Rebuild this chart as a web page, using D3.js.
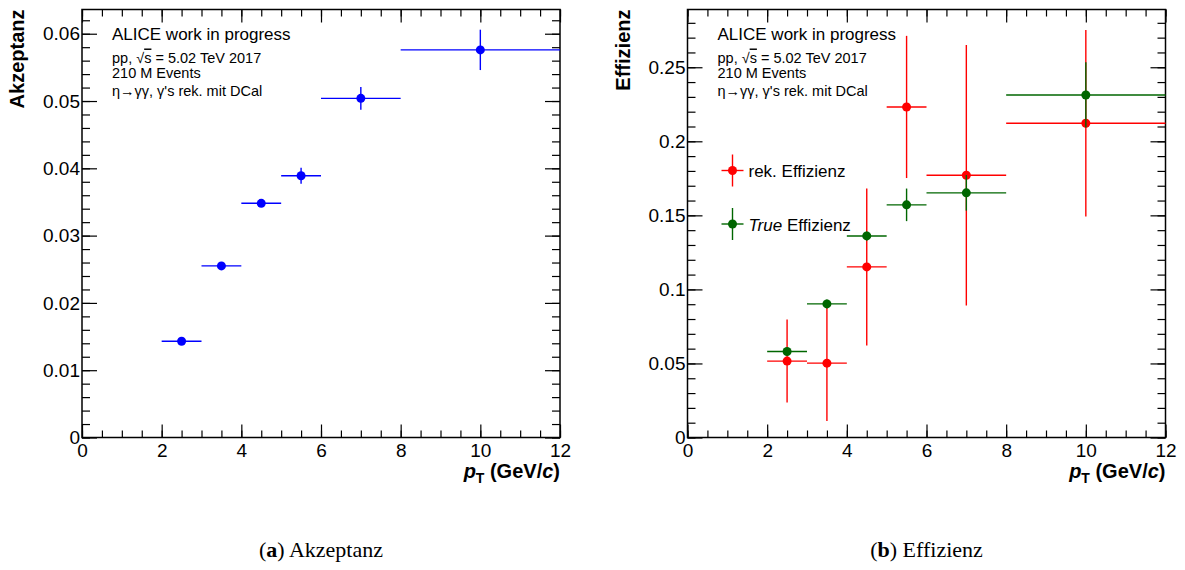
<!DOCTYPE html>
<html>
<head>
<meta charset="utf-8">
<script src="https://cdn.jsdelivr.net/npm/d3@7"></script>
<style>
  body { margin: 0; background: #fff; }
  svg text { font-family: "Liberation Sans", Arial, sans-serif; fill: #000; }
  .axis path { display: none; }
  .axis line { stroke: #000; stroke-width: 1.2; }
  .axis text { font-size: 19px; }
  .caption { font-family: "Liberation Serif", "Times New Roman", serif; font-size: 22px; }
</style>
</head>
<body>
<svg width="1185" height="570"></svg>
<script>
// pT bins (GeV/c)
var ptLow    = [2, 3, 4, 5, 6, 8];
var ptHigh   = [3, 4, 5, 6, 8, 12];
var ptCenter = [2.5, 3.5, 4.5, 5.5, 7, 10];

// (a) acceptance
var akzeptanz    = [0.0143, 0.0255, 0.0348, 0.0389, 0.0504, 0.0576];
var akzeptanzErr = [0.0003, 0.0004, 0.0005, 0.0012, 0.0017, 0.0030];

// (b) efficiency
var effRek     = [0.0516, 0.0502, 0.1152, 0.2232, 0.1771, 0.2122];
var effRekErr  = [0.028, 0.039, 0.053, 0.048, 0.088, 0.063];
var effTrue    = [0.0581, 0.0902, 0.1361, 0.1571, 0.1652, 0.2313];
var effTrueErr = [0.002, 0.003, 0.003, 0.011, 0.012, 0.022];

var xTicks = [0, 2, 4, 6, 8, 10, 12];
var akzTicks = [0, 0.01, 0.02, 0.03, 0.04, 0.05, 0.06];
var akzTickLabels = ["0", "0.01", "0.02", "0.03", "0.04", "0.05", "0.06"];
var effTicks = [0, 0.05, 0.1, 0.15, 0.2, 0.25];
var effTickLabels = ["0", "0.05", "0.1", "0.15", "0.2", "0.25"];

var svg = d3.select("svg");

function series(vals, errs) {
  return ptCenter.map(function(c, i) {
    return {x: c, lo: ptLow[i], hi: ptHigh[i], y: vals[i], e: errs[i]};
  });
}

function drawPoints(g, x, y, data, color) {
  var p = g.append("g");
  data.forEach(function(d) {
    p.append("line")
      .attr("x1", x(d.lo)).attr("x2", x(d.hi))
      .attr("y1", y(d.y)).attr("y2", y(d.y))
      .attr("stroke", color).attr("stroke-width", 1.4);
    p.append("line")
      .attr("x1", x(d.x)).attr("x2", x(d.x))
      .attr("y1", y(d.y - d.e)).attr("y2", y(d.y + d.e))
      .attr("stroke", color).attr("stroke-width", 1.4);
    p.append("circle")
      .attr("cx", x(d.x)).attr("cy", y(d.y)).attr("r", 4.5)
      .attr("fill", color);
  });
}

function drawPanel(opt) {
  var left = opt.left, top = 9.5, width = 478, height = 428;
  var g = svg.append("g").attr("transform", "translate(" + left + "," + top + ")");

  var x = d3.scaleLinear().domain([0, 12]).range([0, width]);
  var y = d3.scaleLinear().domain([0, opt.yMax]).range([height, 0]);

  var xMinor = d3.range(0, 12.01, 0.5);
  var yMinor = d3.range(0, opt.yMax, opt.yMinorStep);

  // ticks, ROOT style: pointing inwards, on all four sides
  g.append("g").attr("class", "axis")
    .attr("transform", "translate(0," + height + ")")
    .call(d3.axisBottom(x).tickValues(xMinor).tickSize(-7).tickFormat(""));
  g.append("g").attr("class", "axis")
    .attr("transform", "translate(0," + height + ")")
    .call(d3.axisBottom(x).tickValues(xTicks).tickSize(-13).tickPadding(6).tickFormat(d3.format("d")));
  g.append("g").attr("class", "axis")
    .call(d3.axisTop(x).tickValues(xMinor).tickSize(-7).tickFormat(""));
  g.append("g").attr("class", "axis")
    .call(d3.axisTop(x).tickValues(xTicks).tickSize(-13).tickFormat(""));

  g.append("g").attr("class", "axis")
    .call(d3.axisLeft(y).tickValues(yMinor).tickSize(-8).tickFormat(""));
  g.append("g").attr("class", "axis")
    .call(d3.axisLeft(y).tickValues(opt.yTicks).tickSize(-15).tickPadding(2)
      .tickFormat(function(d, i) { return opt.yTickLabels[i]; }));
  g.append("g").attr("class", "axis")
    .attr("transform", "translate(" + width + ",0)")
    .call(d3.axisRight(y).tickValues(yMinor).tickSize(-8).tickFormat(""));
  g.append("g").attr("class", "axis")
    .attr("transform", "translate(" + width + ",0)")
    .call(d3.axisRight(y).tickValues(opt.yTicks).tickSize(-15).tickFormat(""));

  g.append("rect")
    .attr("width", width).attr("height", height)
    .attr("fill", "none").attr("stroke", "#000").attr("stroke-width", 1.5);

  // y title
  g.append("text")
    .attr("transform", "translate(" + (-58) + ",0) rotate(-90)")
    .attr("text-anchor", "end")
    .attr("font-size", "20px").attr("font-weight", "bold")
    .text(opt.yTitle);

  // x title
  var xt = g.append("text")
    .attr("x", width).attr("y", height + 40)
    .attr("text-anchor", "end")
    .attr("font-size", "20px").attr("font-weight", "bold");
  xt.append("tspan").attr("font-style", "italic").text("p");
  xt.append("tspan").attr("font-size", "14px").attr("dy", 5).text("T");
  xt.append("tspan").attr("dy", -5).text(" (GeV/");
  xt.append("tspan").attr("font-style", "italic").text("c");
  xt.append("tspan").text(")");

  // info text
  var tx = 30;
  g.append("text").attr("x", tx).attr("y", 30).attr("font-size", "17px").text("ALICE work in progress");
  var l2 = g.append("text").attr("x", tx).attr("y", 53).attr("font-size", "14.5px");
  l2.append("tspan").text("pp, \u221A");
  l2.append("tspan").style("text-decoration", "overline").text("s");
  l2.append("tspan").text(" = 5.02 TeV 2017");
  g.append("text").attr("x", tx).attr("y", 68).attr("font-size", "14.5px").text("210 M Events");
  g.append("text").attr("x", tx).attr("y", 86).attr("font-size", "14.5px")
    .text("\u03B7\u2192\u03B3\u03B3, \u03B3's rek. mit DCal");

  // caption
  var cap = svg.append("text").attr("class", "caption")
    .attr("x", left + width / 2).attr("y", 557).attr("text-anchor", "middle");
  cap.append("tspan").text("(");
  cap.append("tspan").attr("font-weight", "bold").text(opt.tag);
  cap.append("tspan").text(") " + opt.caption);

  return {g: g, x: x, y: y};
}

// (a)
var pa = drawPanel({left: 82, yMax: 0.0636, yMinorStep: 0.002,
  yTicks: akzTicks, yTickLabels: akzTickLabels, yTitle: "Akzeptanz", tag: "a", caption: "Akzeptanz"});
drawPoints(pa.g, pa.x, pa.y, series(akzeptanz, akzeptanzErr), "#0000ff");

// (b)
var pb = drawPanel({left: 687.5, yMax: 0.289, yMinorStep: 0.01,
  yTicks: effTicks, yTickLabels: effTickLabels, yTitle: "Effizienz", tag: "b", caption: "Effizienz"});
drawPoints(pb.g, pb.x, pb.y, series(effRek, effRekErr), "#ff0000");
drawPoints(pb.g, pb.x, pb.y, series(effTrue, effTrueErr), "#006600");

// legend (b)
var legend = [
  {label: "rek. Effizienz", italic: "", color: "#ff0000"},
  {label: " Effizienz", italic: "True", color: "#006600"}
];
legend.forEach(function(d, i) {
  var lg = pb.g.append("g").attr("transform", "translate(45," + (161 + i * 53.5) + ")");
  lg.append("line").attr("x1", -11).attr("x2", 11).attr("stroke", d.color).attr("stroke-width", 1.4);
  lg.append("line").attr("y1", -16).attr("y2", 16).attr("stroke", d.color).attr("stroke-width", 1.4);
  lg.append("circle").attr("r", 4.5).attr("fill", d.color);
  var t = lg.append("text").attr("x", 16).attr("y", 6.5).attr("font-size", "17px");
  if (d.italic) t.append("tspan").attr("font-style", "italic").text(d.italic);
  t.append("tspan").text(d.label);
});
</script>
</body>
</html>
